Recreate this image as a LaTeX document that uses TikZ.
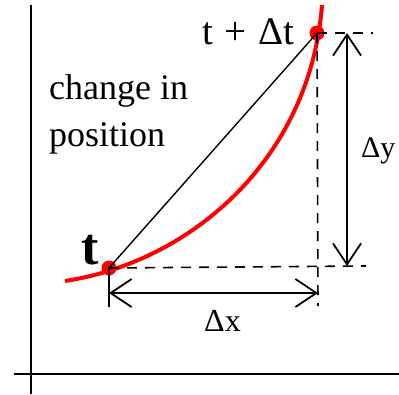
\documentclass[tikz,border=0pt]{standalone}
\usepackage{fontspec}
\setmainfont{Liberation Serif}
\usetikzlibrary{arrows.meta}
\begin{document}
\begin{tikzpicture}[x=1pt,y=-1pt,
  axis/.style={line width=1.8pt},
  curve/.style={red,line width=4pt},
  dot/.style={circle,fill=red,inner sep=0pt,minimum size=15pt},
  chord/.style={line width=1.4pt},
  dashline/.style={line width=1.6pt,dash pattern=on 10pt off 8pt},
  dimarrow/.style={line width=1.8pt,{Straight Barb[length=21pt,width=28pt]}-{Straight Barb[length=21pt,width=28pt]}},
  lbl/.style={inner sep=0pt,anchor=base west}]
\useasboundingbox (0,0) rectangle (399,394);
% axes
\coordinate (ytop) at (31,5);
\coordinate (ybot) at (31,394);
\coordinate (xl) at (14,374);
\coordinate (xr) at (399,374);
\draw[axis] (ytop) -- (ybot);
\draw[axis] (xl) -- (xr);
% curve
\coordinate (c0) at (65,281);
\coordinate (c3) at (322,5);
\draw[curve] (c0) .. controls (190,262) and (310,160) .. (c3);
% points
\node[dot] (t) at (109,268) {};
\node[dot] (tdt) at (317,33) {};
% chord
\draw[chord] (t.center) -- (tdt.center);
% dashed guides
\coordinate (hb) at (366,266);
\coordinate (ht) at (373,33);
\coordinate (vb) at (318,306);
\coordinate (tb) at (109,307);
\draw[dashline] (t.center) -- (hb);
\draw[dashline] (tdt.center) -- (ht);
\draw[dashline] (tdt.center) -- (vb);
\draw[line width=1.6pt] (t.center) -- (tb);
% dimension arrows
\coordinate (dxl) at (109,293);
\coordinate (dxr) at (318,293);
\coordinate (dyt) at (347,33);
\coordinate (dyb) at (347,266);
\draw[dimarrow] (dxl) -- (dxr);
\draw[dimarrow] (dyt) -- (dyb);
% labels
\node[lbl,align=left,font=\fontsize{36}{47}\selectfont] (chg) at (49,146) {change in\\position};
\node[lbl,font=\fontsize{39}{42}\selectfont] (ldt) at (202,44) {t\hspace{0.3em}+\hspace{0.3em}Δt};
\node[lbl,font=\fontsize{52}{56}\selectfont\bfseries] (lt) at (81,264) {t};
\node[lbl,font=\fontsize{32}{34}\selectfont] (ldx) at (204,331) {Δx};
\node[lbl,font=\fontsize{30}{32}\selectfont] (ldy) at (361,157) {Δy};
\end{tikzpicture}
\end{document}
